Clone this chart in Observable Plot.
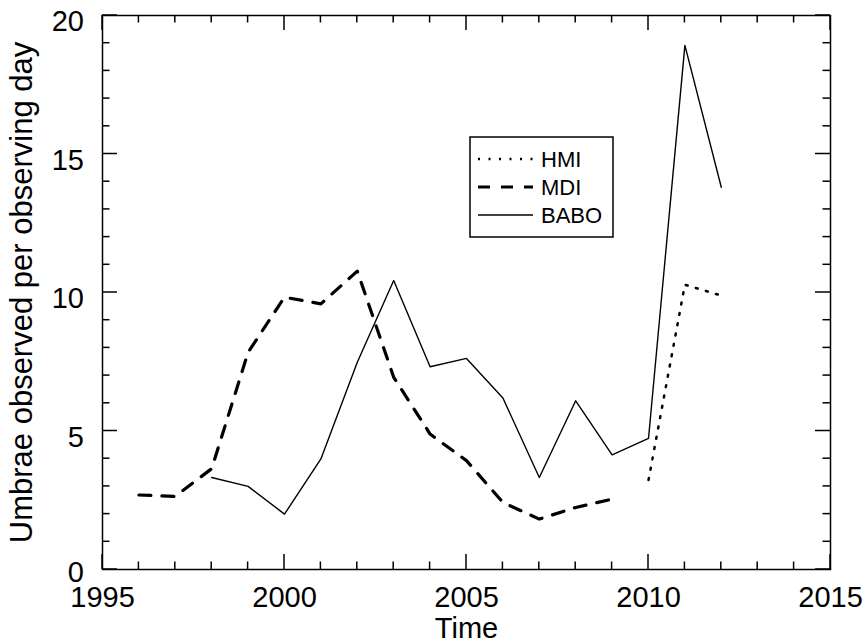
<!DOCTYPE html>
<html>
<head>
<meta charset="utf-8">
<script src="https://cdn.jsdelivr.net/npm/d3@7"></script>
<script src="https://cdn.jsdelivr.net/npm/@observablehq/plot@0.6"></script>
<style>
  html, body { margin: 0; padding: 0; background: white; }
  #chart { width: 868px; height: 644px; }
</style>
</head>
<body>
<div id="chart"></div>
<script>
// ---- data ----
const mdiYears  = [1996, 1997, 1998, 1999, 2000, 2001, 2002, 2003, 2004, 2005, 2006, 2007, 2008, 2009];
const mdiValues = [2.69, 2.64, 3.64, 7.84, 9.83, 9.59, 10.77, 6.94, 4.89, 3.93, 2.42, 1.82, 2.24, 2.54];

const baboYears  = [1998, 1999, 2000, 2001, 2002, 2003, 2004, 2005, 2006, 2007, 2008, 2009, 2010, 2011, 2012];
const baboValues = [3.32, 3.00, 2.00, 3.99, 7.48, 10.43, 7.32, 7.62, 6.19, 3.32, 6.09, 4.14, 4.73, 18.92, 13.80];

const hmiYears  = [2010, 2011, 2012];
const hmiValues = [3.23, 10.28, 9.89];

const xMajor = [1995, 2000, 2005, 2010, 2015];
const xMinor = d3.range(1996, 2015).filter(d => d % 5 !== 0);
const yMajor = [0, 5, 10, 15, 20];
const yMinor = d3.range(1, 20).filter(d => d % 5 !== 0);

const seriesNames = ["HMI", "MDI", "BABO"];
const xLabel = "Time";
const yLabel = "Umbrae observed per observing day";

// ---- layout / styles ----
const W = 868, H = 644, ML = 102, MR = 38, MT = 15, MB = 75;
const FONT = "'Liberation Sans', Arial, Helvetica, sans-serif";
const styles = {
  HMI:  {stroke: "black", strokeWidth: 2.5, strokeDasharray: "2,8.5"},
  MDI:  {stroke: "black", strokeWidth: 3.2, strokeDasharray: "12,11"},
  BABO: {stroke: "black", strokeWidth: 1.4, strokeDasharray: null}
};

const toRows = (years, values) => years.map((x, i) => ({x, y: values[i]}));
const MAJ = 15, MIN = 7.5;

const chart = Plot.plot({
  width: W,
  height: H,
  marginLeft: ML,
  marginRight: MR,
  marginTop: MT,
  marginBottom: MB,
  x: {domain: [1995, 2015], axis: null},
  y: {domain: [0, 20], axis: null},
  style: {fontFamily: FONT, background: "white", color: "black", overflow: "visible"},
  marks: [
    Plot.line(toRows(mdiYears, mdiValues), {x: "x", y: "y", ...styles.MDI}),
    Plot.line(toRows(baboYears, baboValues), {x: "x", y: "y", ...styles.BABO}),
    Plot.line(toRows(hmiYears, hmiValues), {x: "x", y: "y", ...styles.HMI}),
    Plot.frame({stroke: "black", strokeWidth: 1.5}),
    Plot.text(xMajor, {x: d => d, frameAnchor: "bottom", text: d => String(d), textAnchor: "middle",
                       lineAnchor: "top", dy: 17, fontSize: 29, fill: "black"}),
    Plot.text([xLabel], {frameAnchor: "bottom", text: d => d, textAnchor: "middle", fontSize: 29,
                         lineAnchor: "top", dy: 48, fill: "black"}),
    Plot.text([yLabel], {frameAnchor: "left", text: d => d, textAnchor: "middle", lineAnchor: "middle",
                         fontSize: 31, rotate: -90, dx: -80, fill: "black"})
  ]
});

// scales from the plot
const sx = chart.scale("x"), sy = chart.scale("y");
const X = v => sx.apply(v), Y = v => sy.apply(v);
const [x0, x1] = sx.range, [yb, yt] = sy.range;

const svg = d3.select(chart);

// inward ticks, four sides
const tg = svg.append("g").attr("stroke", "black").attr("stroke-width", 1.5);
const addX = (vals, len) => vals.forEach(v => {
  tg.append("line").attr("x1", X(v)).attr("x2", X(v)).attr("y1", yb).attr("y2", yb - len);
  tg.append("line").attr("x1", X(v)).attr("x2", X(v)).attr("y1", yt).attr("y2", yt + len);
});
const addY = (vals, len) => vals.forEach(v => {
  tg.append("line").attr("y1", Y(v)).attr("y2", Y(v)).attr("x1", x0).attr("x2", x0 + len);
  tg.append("line").attr("y1", Y(v)).attr("y2", Y(v)).attr("x1", x1).attr("x2", x1 - len);
});
addX(xMajor, MAJ); addX(xMinor, MIN);
addY(yMajor, MAJ); addY(yMinor, MIN);

// y tick labels
const yl = svg.append("g").attr("font-family", FONT).attr("font-size", 29).attr("fill", "black");
yMajor.forEach(v => {
  yl.append("text").attr("x", x0 - 18).attr("y", Y(v) + (v === 0 ? 4 : 7)).attr("dy", "0.32em")
    .attr("text-anchor", "end").style("text-anchor", "end").text(String(v));
});

// legend
const lg = svg.append("g").attr("font-family", FONT);
const box = {x: 470, y: 137, w: 143, h: 100};
lg.append("rect")
  .attr("x", box.x).attr("y", box.y).attr("width", box.w).attr("height", box.h)
  .attr("fill", "white").attr("stroke", "black").attr("stroke-width", 1.5);
seriesNames.forEach((name, i) => {
  const yy = 159 + i * 28;
  const s = styles[name];
  lg.append("line")
    .attr("x1", 478).attr("x2", 533).attr("y1", yy).attr("y2", yy)
    .attr("stroke", s.stroke).attr("stroke-width", s.strokeWidth)
    .attr("stroke-dasharray", s.strokeDasharray);
  lg.append("text")
    .attr("x", 541).attr("y", yy).attr("dy", "0.36em")
    .attr("text-anchor", "start").style("text-anchor", "start")
    .attr("font-size", 22).attr("fill", "black")
    .text(name);
});

document.getElementById("chart").appendChild(chart);
</script>
</body>
</html>
